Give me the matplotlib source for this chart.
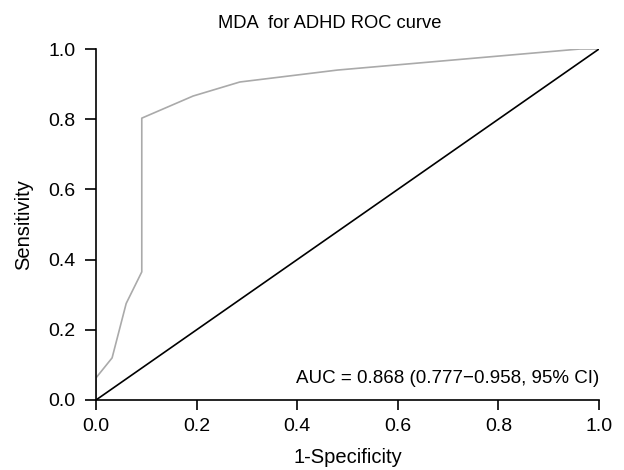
import matplotlib
matplotlib.use("Agg")
import matplotlib.pyplot as plt

plt.rcParams['font.family'] = ['Liberation Sans', 'DejaVu Sans']

fpr = [0.0, 0.0, 0.032, 0.060, 0.091, 0.091, 0.193, 0.286, 0.480, 0.962, 1.0]
tpr = [0.0, 0.063, 0.120, 0.275, 0.365, 0.803, 0.866, 0.906, 0.940, 1.0, 1.0]
ticks = [0.0, 0.2, 0.4, 0.6, 0.8, 1.0]
tick_labels = ["0.0", "0.2", "0.4", "0.6", "0.8", "1.0"]

fig = plt.figure(figsize=(6.24, 4.70), dpi=100)
ax = fig.add_axes([96/624, 1 - 400/470, (599-96)/624, (400-49)/470])
ax.plot(fpr, tpr, color='#aaaaaa', lw=1.2)
ax.plot([0, 1], [0, 1], color='black', lw=1.2)
ax.set_xlim(0, 1)
ax.set_ylim(0, 1)
for s in ['top', 'right']:
    ax.spines[s].set_visible(False)
for s in ['left', 'bottom']:
    ax.spines[s].set_linewidth(1.2)
ax.set_xticks(ticks)
ax.set_xticklabels(tick_labels)
ax.set_yticks(ticks)
ax.set_yticklabels(tick_labels)
ax.tick_params(direction='out', length=7, width=1.2, labelsize=14)
ax.tick_params(axis='x', pad=6)
ax.tick_params(axis='y', length=8, pad=7)
ax.set_xlabel("1-Specificity", fontsize=14.5, labelpad=9.5)
ax.set_ylabel("Sensitivity", fontsize=14.5, labelpad=10.5)
ax.set_title("MDA  for ADHD ROC curve", fontsize=13.2, pad=15, x=0.465)
ax.text(1.0, 0.06, "AUC = 0.868 (0.777\u22120.958, 95% CI)", ha='right', va='center',
        fontsize=13.5, transform=ax.transAxes)
for l in ax.get_xticklabels() + ax.get_yticklabels():
    l.set_clip_on(False)
fig.savefig("out.png", dpi=100)
